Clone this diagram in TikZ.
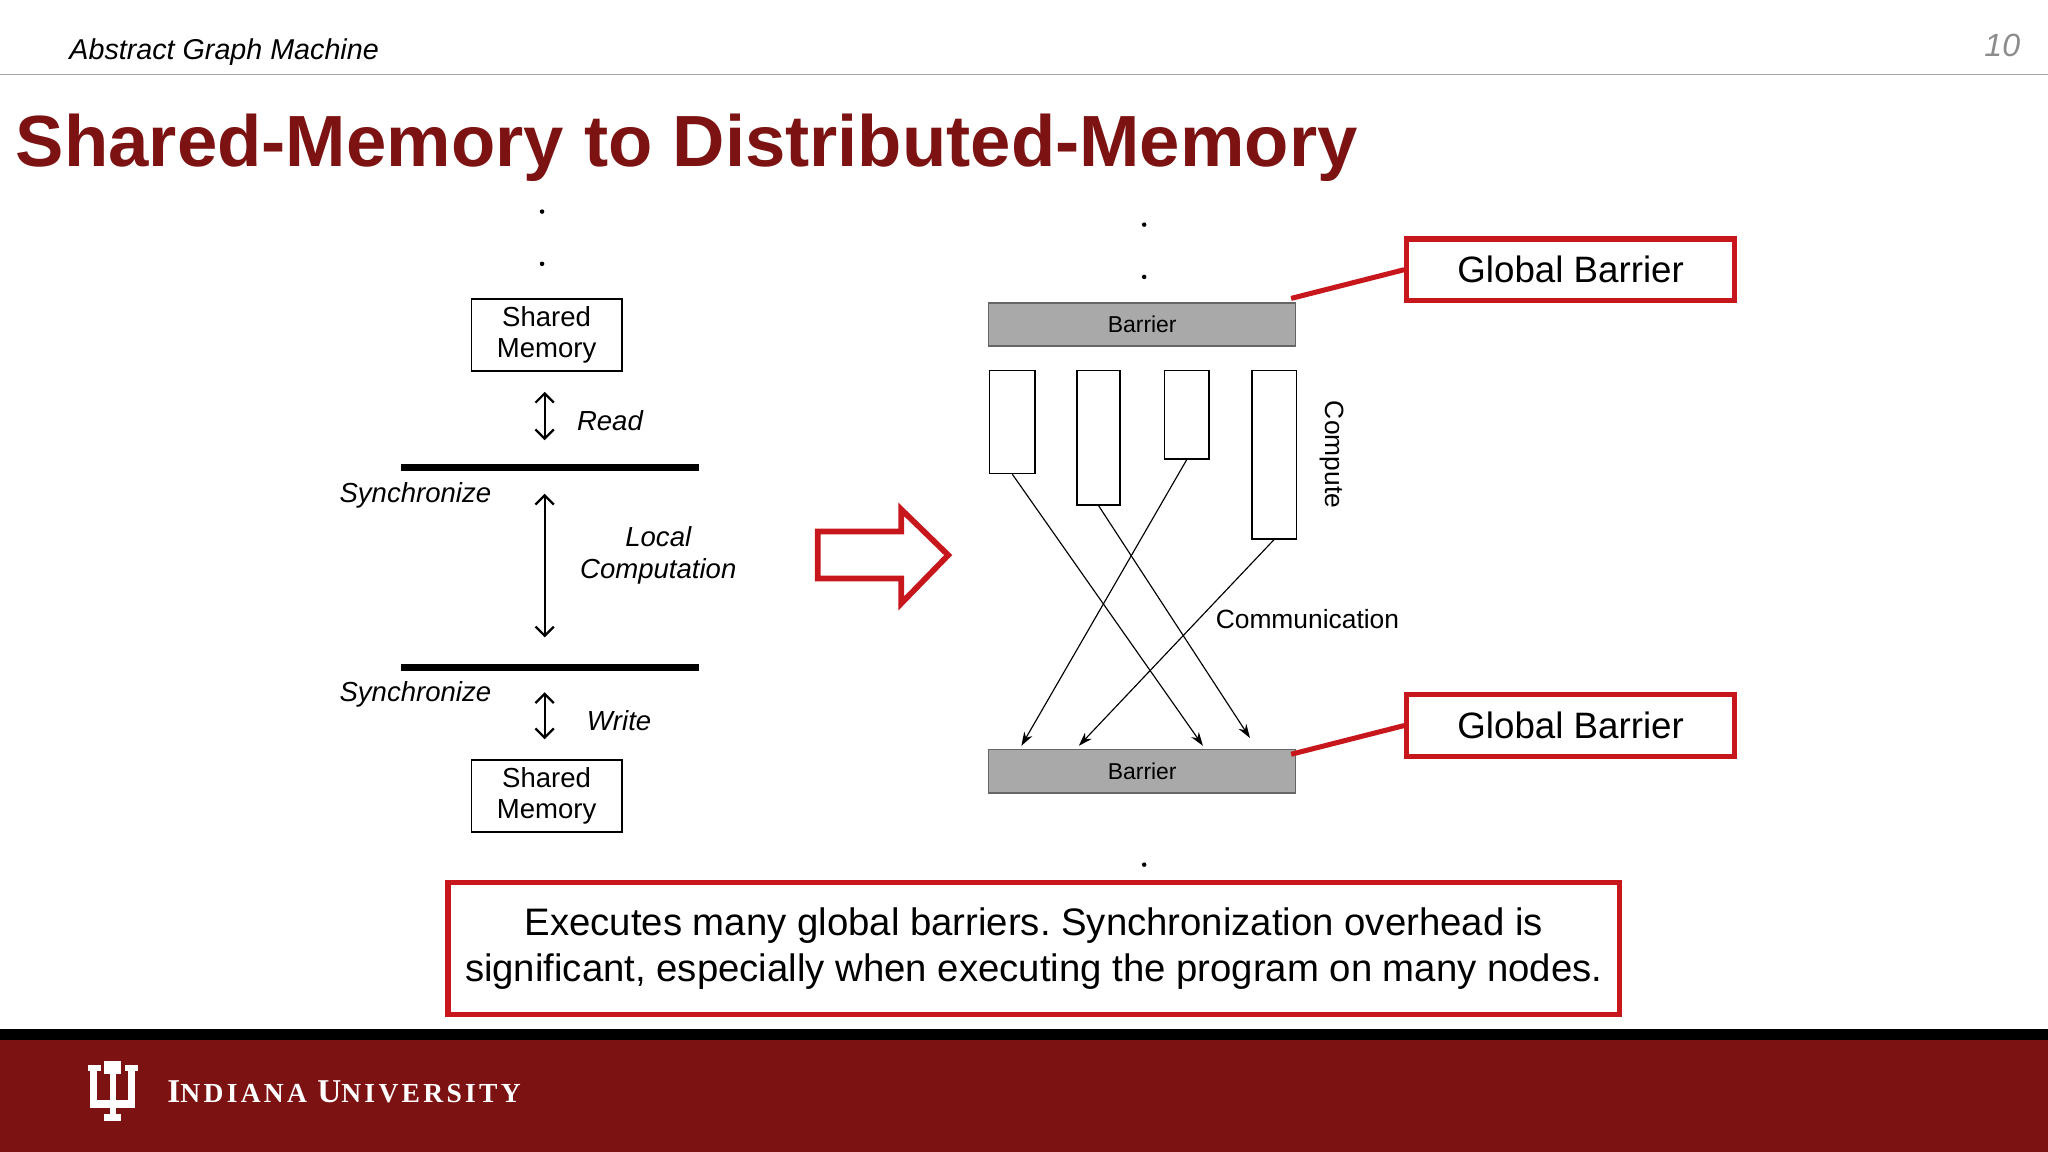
\documentclass[tikz,border=0pt]{standalone}
\usepackage{fontspec}
\setmainfont{Liberation Sans}
\newfontfamily\serifb[LetterSpace=12]{Liberation Serif}
\usetikzlibrary{arrows.meta}
\definecolor{iured}{HTML}{7D1212}
\definecolor{boxred}{HTML}{C8161D}
\definecolor{bargray}{HTML}{A9A9A9}
\frenchspacing
\begin{document}
\begin{tikzpicture}[x=0.02cm,y=-0.02cm,
  smbox/.style={draw,line width=0.8pt,minimum width=115*0.02cm,minimum height=55*0.02cm,align=center,font=\fontsize{12}{13.5}\selectfont,inner sep=0pt},
  barbox/.style={draw=black!60,fill=bargray,line width=0.6pt,minimum width=235*0.02cm,minimum height=33*0.02cm,inner sep=0pt,font=\fontsize{10}{12}\selectfont},
  cbox/.style={draw,line width=0.6pt,inner sep=0pt},
  gb/.style={draw=boxred,line width=2.2pt,minimum width=251*0.02cm,minimum height=47*0.02cm,inner sep=0pt,font=\fontsize{16}{18}\selectfont},
  it/.style={font=\fontsize{12}{14}\selectfont\itshape,align=center},
  darr/.style={{Straight Barb[length=4pt]}-{Straight Barb[length=4pt]},line width=1pt},
  sarr/.style={-{Stealth[length=6pt,width=4pt]},line width=0.5pt},
  dot/.style={circle,fill,inner sep=0.7pt}]
\useasboundingbox (0,0) rectangle (1568,882);
% header
\draw[black!35,line width=0.8pt] (0,57) -- (1568,57);
\node[anchor=west,font=\fontsize{12.5}{14}\selectfont\itshape] (hdr) at (47,40) {Abstract Graph Machine};
\node[font=\fontsize{14}{16}\selectfont\itshape,text=black!45] (pg) at (1533,35) {10};
\node[anchor=west,font=\fontsize{31.6}{36}\selectfont\bfseries,text=iured] (title) at (6,113) {Shared-Memory to Distributed-Memory};
% dots
\node[dot] (d1) at (415,162) {};
\node[dot] (d2) at (415,202) {};
\node[dot] (d3) at (876,172) {};
\node[dot] (d4) at (876,212) {};
\node[dot] (d5) at (876,662) {};
% left column
\node[smbox] (sm1) at (418.5,256.5) {Shared\\Memory};
\node[smbox] (sm2) at (418.5,609.5) {Shared\\Memory};
\coordinate (r1) at (417,300); \coordinate (r2) at (417,337);
\draw[darr] (r1) -- (r2);
\node[it] (read) at (467,322) {Read};
\coordinate (s1a) at (307,358); \coordinate (s1b) at (535,358);
\draw[line width=2.8pt] (s1a) -- (s1b);
\coordinate (s2a) at (307,511); \coordinate (s2b) at (535,511);
\draw[line width=2.8pt] (s2a) -- (s2b);
\node[it] (sy1) at (318,379) {Synchronize};
\node[it] (sy2) at (318,532) {Synchronize};
\coordinate (l1) at (417,378); \coordinate (l2) at (417,488);
\draw[darr] (l1) -- (l2);
\node[it] (lc) at (504,425) {Local\\Computation};
\coordinate (w1) at (417,530); \coordinate (w2) at (417,566);
\draw[darr] (w1) -- (w2);
\node[it] (wr) at (474,552) {Write};
% big arrow
\draw[boxred,line width=2.5pt,line join=miter] (626,407) -- (690,407) -- (690,390) -- (726,425) -- (690,462) -- (690,443) -- (626,443) -- cycle;
% right diagram
\node[barbox] (b1) at (874.5,248.5) {Barrier};
\node[barbox] (b2) at (874.5,590.5) {Barrier};
\node[cbox,minimum width=35*0.02cm,minimum height=79*0.02cm,anchor=north west] (c1) at (757,283) {};
\node[cbox,minimum width=33*0.02cm,minimum height=103*0.02cm,anchor=north west] (c2) at (824,283) {};
\node[cbox,minimum width=34*0.02cm,minimum height=68*0.02cm,anchor=north west] (c3) at (891,283) {};
\node[cbox,minimum width=34*0.02cm,minimum height=129*0.02cm,anchor=north west] (c4) at (958,283) {};
\node[rotate=-90,font=\fontsize{11.5}{13}\selectfont] (cmp) at (1020,348) {Compute};
\coordinate (t1) at (921,571); \coordinate (t2) at (957,565);
\coordinate (t3) at (782,571); \coordinate (t4) at (826,571);
\draw[sarr] (c1.south) -- (t1);
\draw[sarr] (c2.south) -- (t2);
\draw[sarr] (c3.south) -- (t3);
\draw[sarr] (c4.south) -- (t4);
\node[font=\fontsize{11.5}{13}\selectfont] (comm) at (1001,474) {Communication};
% global barrier callouts
\node[gb] (g1) at (1202.5,206.5) {Global Barrier};
\node[gb] (g2) at (1202.5,555.5) {Global Barrier};
\draw[boxred,line width=2.2pt] (b1.north east) ++(-4,-3) -- (g1.west);
\draw[boxred,line width=2.2pt] (b2.north east) ++(-4,4) -- (g2.west);
% bottom note
\node[draw=boxred,line width=2.2pt,minimum width=897*0.02cm,minimum height=101*0.02cm,align=center,font=\fontsize{16.7}{20}\selectfont,inner sep=0pt] (note) at (791.5,726.5) {Executes many global barriers. Synchronization overhead is\\significant, especially when executing the program on many nodes.};
% footer
\fill[black] (0,788) rectangle (1568,796);
\fill[iured] (0,796) rectangle (1568,882);
\fill[white] (67,815) rectangle (77,820); \fill[white] (96,815) rectangle (106,820);
\fill[white] (69,815) rectangle (74,845); \fill[white] (98,815) rectangle (103,845);
\fill[white] (80,812) rectangle (93,822); \fill[white] (84,812) rectangle (89,858);
\fill[white] (69,842) rectangle (103,848); \fill[white] (80,853) rectangle (93,858);
\node[anchor=west,text=white,font=\serifb\fontsize{14.5}{16}\selectfont\bfseries] (iu) at (122,836) {I\fontsize{12}{13}\selectfont NDIANA \fontsize{14.5}{16}\selectfont U\fontsize{12}{13}\selectfont NIVERSITY};
\end{tikzpicture}
\end{document}
